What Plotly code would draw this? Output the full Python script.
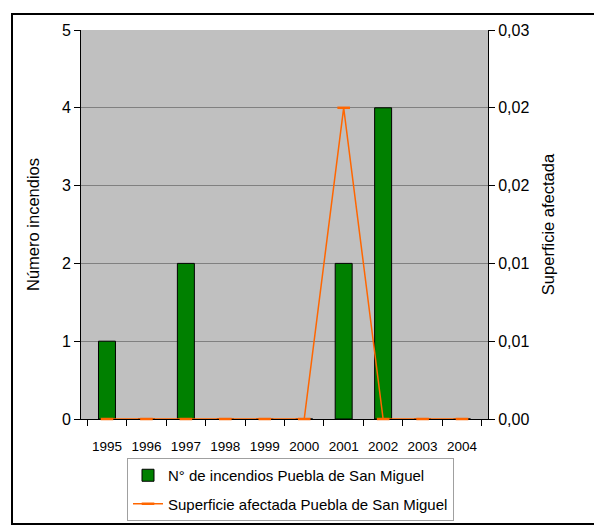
import plotly.graph_objects as go

years = ["1995", "1996", "1997", "1998", "1999", "2000", "2001", "2002", "2003", "2004"]
n_incendios = [1, 0, 2, 0, 0, 0, 2, 4, 0, 0]
superficie = [0, 0, 0, 0, 0, 0, 0.024, 0, 0, 0]
left_ticks = [0, 1, 2, 3, 4, 5]
right_ticks = [0, 0.006, 0.012, 0.018, 0.024, 0.03]

FONT = "Liberation Sans, Arial, sans-serif"

# page body has an 8px margin; figure is sized to fill the remaining window
W, H = 594, 523
PL, PR, PT, PB = 81, 488, 30, 419  # plot area in page pixels
OFF = 8
pw, ph = PR - PL, PB - PT


def px(xp):
    return (xp - PL) / pw


def py(yp):
    return (PB - yp) / ph


fig = go.Figure()
fig.add_trace(go.Bar(
    x=years, y=n_incendios, name="N° de incendios Puebla de San Miguel",
    marker=dict(color="#008000", line=dict(color="black", width=1)),
    width=0.43, yaxis="y", legendgroup="a",
))
fig.add_trace(go.Scatter(
    x=years, y=superficie, name="Superficie afectada Puebla de San Miguel",
    mode="lines+markers", yaxis="y2", legendgroup="b", cliponaxis=False,
    line=dict(color="#FF6600", width=1.5),
    marker=dict(symbol="line-ew", size=9, line=dict(color="#FF6600", width=2.5)),
))

fig.update_layout(
    width=W, height=H,
    margin=dict(l=PL - OFF, r=W - (PR - OFF), t=PT - OFF, b=H - (PB - OFF),
                autoexpand=False),
    paper_bgcolor="white", plot_bgcolor="#C0C0C0",
    separators=",.",
    font=dict(family=FONT, size=15, color="black"),
    showlegend=True,
    legend=dict(
        x=px(127), y=py(458), xanchor="left", yanchor="top",
        bgcolor="white", bordercolor="#A0A0A0", borderwidth=1,
        font=dict(family=FONT, size=15), tracegroupgap=6,
        traceorder="grouped",
    ),
    xaxis=dict(
        type="category", showline=True, linecolor="black", linewidth=1,
        ticks="outside", ticklen=6, tickcolor="black", tickson="boundaries",
        tickfont=dict(family=FONT, size=13.5), tickangle=0, showgrid=False,
        ticklabelstandoff=15, layer="below traces", automargin=False,
    ),
    yaxis=dict(
        range=[0, 5], tickvals=left_ticks, showline=True, linecolor="black",
        ticks="outside", ticklen=6, tickcolor="black",
        showgrid=True, gridcolor="#808080", gridwidth=1,
        tickfont=dict(family=FONT, size=16), automargin=False,
        title=dict(text="Número incendios", font=dict(family=FONT, size=16.5), standoff=18),
        zeroline=False,
    ),
    yaxis2=dict(
        range=[0, 0.03], tickvals=right_ticks, tickformat=".2f",
        overlaying="y", side="right", showline=True, linecolor="black",
        ticks="outside", ticklen=6, tickcolor="black", showgrid=False,
        tickfont=dict(family=FONT, size=16), automargin=False,
        title=dict(text="Superficie afectada", font=dict(family=FONT, size=16.5), standoff=14),
        zeroline=False,
    ),
    shapes=[
        dict(type="rect", xref="paper", yref="paper",
             x0=px(12), x1=px(596), y0=py(524), y1=py(14),
             line=dict(color="black", width=2), layer="below"),
    ],
)

fig.write_html("out.html")
